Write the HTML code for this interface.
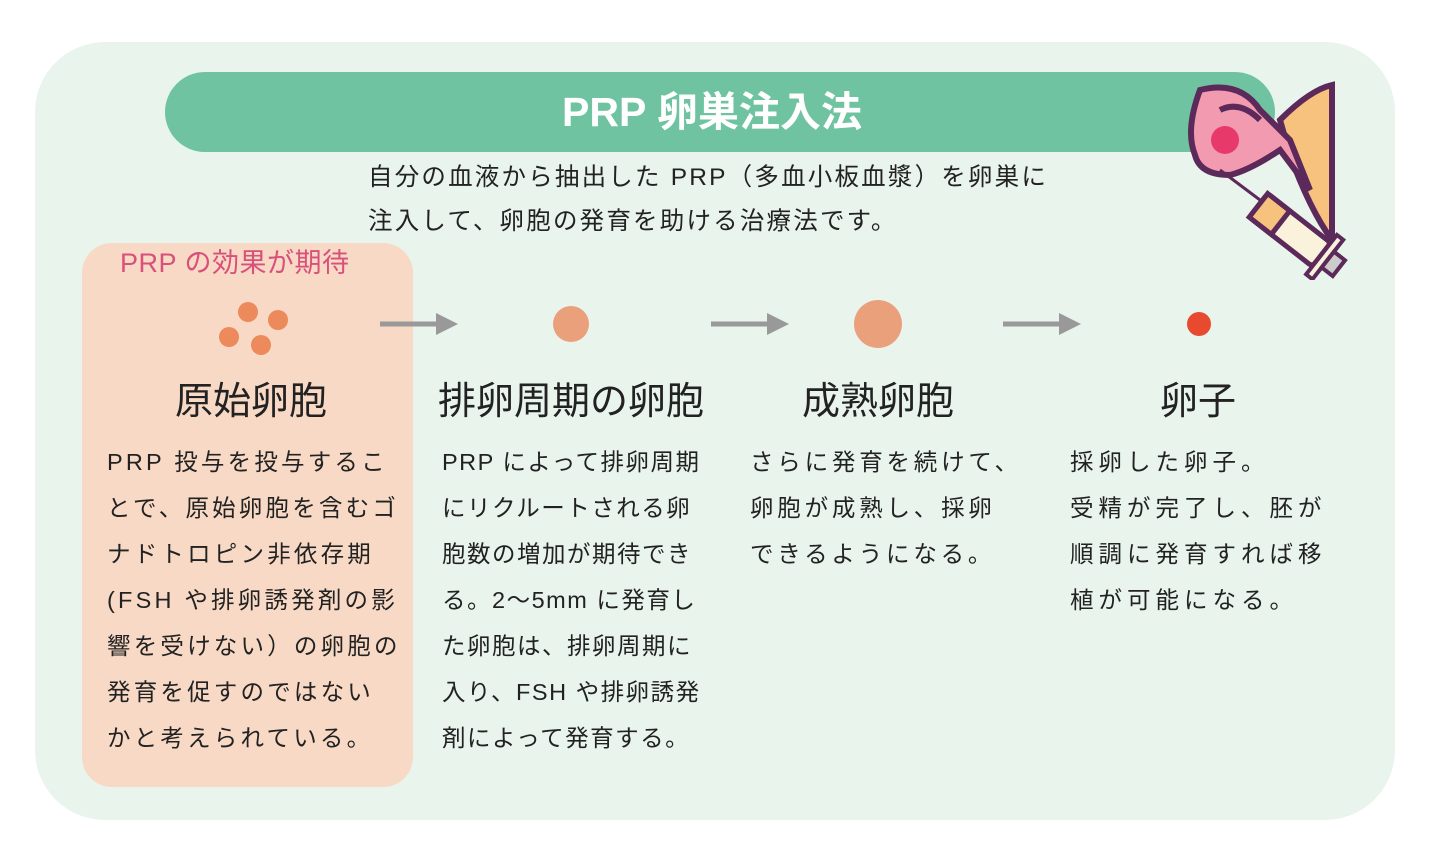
<!DOCTYPE html>
<html><head><meta charset="utf-8"><style>
body{margin:0;width:1442px;height:867px;background:#fff;position:relative;overflow:hidden;font-family:"Liberation Sans","Noto Sans CJK JP",sans-serif;color:#222}
.a{position:absolute;white-space:nowrap}
.t{font-size:38px;transform:translateX(-50%);line-height:40px}
.b{font-size:23.5px;line-height:46px;letter-spacing:1.5px}
</style></head><body>
<div class="a" style="left:35px;top:42px;width:1360px;height:778px;background:#e8f4ec;border-radius:70px"></div>
<div class="a" style="left:165px;top:72px;width:1110px;height:80px;background:#70c3a0;border-radius:40px"></div>
<div class="a" style="left:712px;top:89px;transform:translateX(-50%);font-size:41px;font-weight:bold;color:#fff;line-height:46px">PRP 卵巣注入法</div>
<div class="a" style="left:368px;top:156px;font-size:24.5px;line-height:44px;letter-spacing:2.2px">自分の血液から抽出した PRP（多血小板血漿）を卵巣に<br>注入して、卵胞の発育を助ける治療法です。</div>
<svg class="a" style="left:1160px;top:60px" width="200" height="220" viewBox="0 0 200 220">
<path d="M120 60 Q150 30 172 25 L172 180 Q150 150 130 95 Z" fill="#f7c27d" stroke="#5b2a5a" stroke-width="6"/>
<path d="M40 30 Q80 20 100 50 Q120 70 130 80 L150 130 L120 90 Q90 110 70 115 Q40 115 35 95 Q25 70 40 30Z" fill="#f29ab0" stroke="#5b2a5a" stroke-width="6"/>
<path d="M60 50 Q80 40 100 60" stroke="#5b2a5a" stroke-width="6" fill="none"/>
<circle cx="65" cy="80" r="14" fill="#e83a6a"/>
<line x1="60" y1="110" x2="100" y2="140" stroke="#5b2a5a" stroke-width="3"/>
<g transform="rotate(38 130 170)"><rect x="90" y="155" width="80" height="30" rx="4" fill="#fbf2dc" stroke="#5b2a5a" stroke-width="5"/><rect x="90" y="155" width="28" height="30" fill="#f7c27d" stroke="#5b2a5a" stroke-width="5"/><rect x="170" y="145" width="8" height="50" fill="#fbf2dc" stroke="#5b2a5a" stroke-width="4"/><rect x="178" y="160" width="14" height="20" fill="#ccc" stroke="#5b2a5a" stroke-width="4"/></g>
</svg>
<div class="a" style="left:82px;top:243px;width:331px;height:544px;background:#f8d9c5;border-radius:30px"></div>
<div class="a" style="left:120px;top:246px;font-size:27px;color:#d9507a;line-height:34px;letter-spacing:0.5px">PRP の効果が期待</div>
<svg class="a" style="left:0;top:0" width="1442" height="867">
<g fill="#ec8a5c"><circle cx="248" cy="312" r="10"/><circle cx="278" cy="320" r="10"/><circle cx="229" cy="337" r="10"/><circle cx="261" cy="345" r="10"/></g>
<circle cx="571" cy="324" r="18" fill="#eba07c"/>
<circle cx="878" cy="324" r="24" fill="#eba07c"/>
<circle cx="1199" cy="324" r="12" fill="#e84a30"/>
<g stroke="#999" stroke-width="5" fill="#999">
<line x1="380" y1="324" x2="440" y2="324"/><polygon points="436,313 458,324 436,335" stroke="none"/>
<line x1="711" y1="324" x2="771" y2="324"/><polygon points="767,313 789,324 767,335" stroke="none"/>
<line x1="1003" y1="324" x2="1063" y2="324"/><polygon points="1059,313 1081,324 1059,335" stroke="none"/>
</g></svg>
<div class="a t" style="left:251px;top:382px">原始卵胞</div>
<div class="a t" style="left:571px;top:382px">排卵周期の卵胞</div>
<div class="a t" style="left:878px;top:382px">成熟卵胞</div>
<div class="a t" style="left:1198px;top:382px">卵子</div>
<div class="a b" style="left:107px;top:439px;letter-spacing:3.2px">PRP 投与を投与するこ<br>とで、原始卵胞を含むゴ<br>ナドトロピン非依存期<br>(FSH や排卵誘発剤の影<br>響を受けない）の卵胞の<br>発育を促すのではない<br>かと考えられている。</div>
<div class="a b" style="left:442px;top:439px">PRP によって排卵周期<br>にリクルートされる卵<br>胞数の増加が期待でき<br>る。2～5mm に発育し<br>た卵胞は、排卵周期に<br>入り、FSH や排卵誘発<br>剤によって発育する。</div>
<div class="a b" style="left:750px;top:439px;letter-spacing:3.8px">さらに発育を続けて、<br>卵胞が成熟し、採卵<br>できるようになる。</div>
<div class="a b" style="left:1070px;top:439px;letter-spacing:5px">採卵した卵子。<br>受精が完了し、胚が<br>順調に発育すれば移<br>植が可能になる。</div>
</body></html>
